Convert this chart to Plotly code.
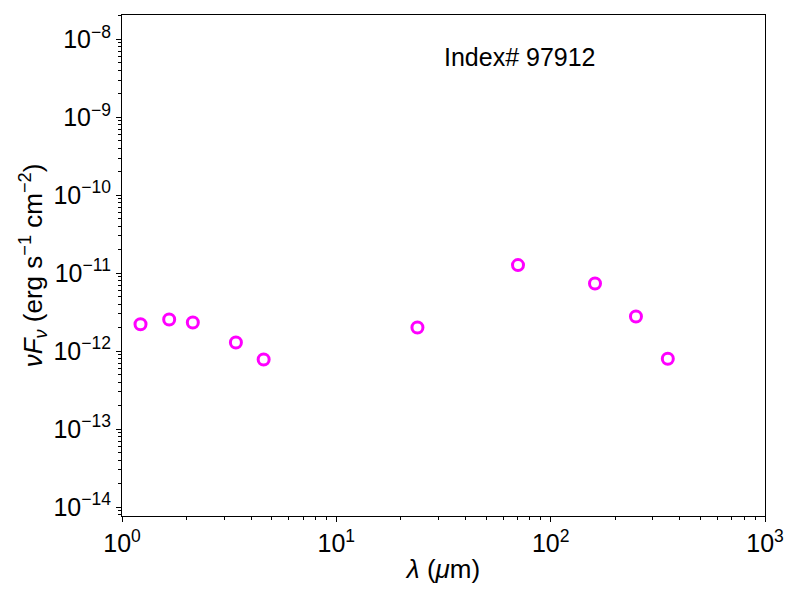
import plotly.graph_objects as go

# SED photometry (wavelength in micron, nuFnu in erg/s/cm2)
wavelength = [1.22, 1.66, 2.14, 3.40, 4.58, 23.9, 70.4, 161.0, 250.0, 352.0]
nu_f_nu = [2.21e-12, 2.55e-12, 2.33e-12, 1.29e-12, 7.8e-13,
           2.01e-12, 1.27e-11, 7.38e-12, 2.78e-12, 8.0e-13]
source_label = "Index# 97912"

x_decades = [0, 1, 2, 3]
y_decades = [-14, -13, -12, -11, -10, -9, -8]

FONT = "Liberation Sans, Arial, Helvetica, sans-serif"


def minor_vals(decades, lo, hi):
    vals = []
    for d in decades:
        for m in range(2, 10):
            v = m * 10.0 ** d
            if lo <= v <= hi:
                vals.append(v)
    return vals


x_lo, x_hi = 0.0, 3.0
y_lo, y_hi = -14.115, -7.688

fig = go.Figure()
fig.add_trace(go.Scatter(
    x=wavelength, y=nu_f_nu, mode="markers",
    marker=dict(symbol="circle-open", size=11, color="#ff00ff",
                line=dict(width=3, color="#ff00ff")),
    showlegend=False))

fig.add_annotation(x=0.619, y=0.916, xref="paper", yref="paper",
                   xanchor="center", yanchor="middle",
                   text=source_label, showarrow=False,
                   font=dict(size=25, color="black", family=FONT))

axis_common = dict(type="log", showgrid=False, zeroline=False,
                   showline=True, linecolor="black", linewidth=1.2,
                   mirror=True, ticks="outside", ticklen=5, tickwidth=1.2,
                   tickcolor="black", tickfont=dict(size=25, family=FONT, color="black"))

fig.update_xaxes(
    range=[x_lo, x_hi],
    tickvals=[10.0 ** d for d in x_decades],
    ticktext=["10<sup>%d</sup>" % d for d in x_decades],
    minor=dict(ticks="outside", ticklen=3, tickcolor="black", tickwidth=1,
               tickvals=minor_vals(range(-1, 4), 1, 1000)),
    title=dict(text="<i>λ</i> (<i>μ</i>m)", font=dict(size=26, family=FONT, color="black"),
               standoff=3),
    **axis_common)

fig.update_yaxes(
    range=[y_lo, y_hi],
    tickvals=[10.0 ** d for d in y_decades],
    ticktext=["10<sup>−%d</sup>" % (-d) for d in y_decades],
    minor=dict(ticks="outside", ticklen=3, tickcolor="black", tickwidth=1,
               tickvals=minor_vals(range(-15, -7), 10 ** y_lo, 10 ** y_hi)),
    title=dict(text="<i>νF</i><sub><i>ν</i></sub> (erg s<sup>−1</sup> cm<sup>−2</sup>)",
               font=dict(size=26, family=FONT, color="black"), standoff=3),
    **axis_common)

fig.update_layout(
    width=800, height=600,
    margin=dict(l=114, r=43, t=7, b=92),
    plot_bgcolor="white", paper_bgcolor="white",
    font=dict(family=FONT, color="black"))

fig.write_html("out.html")
